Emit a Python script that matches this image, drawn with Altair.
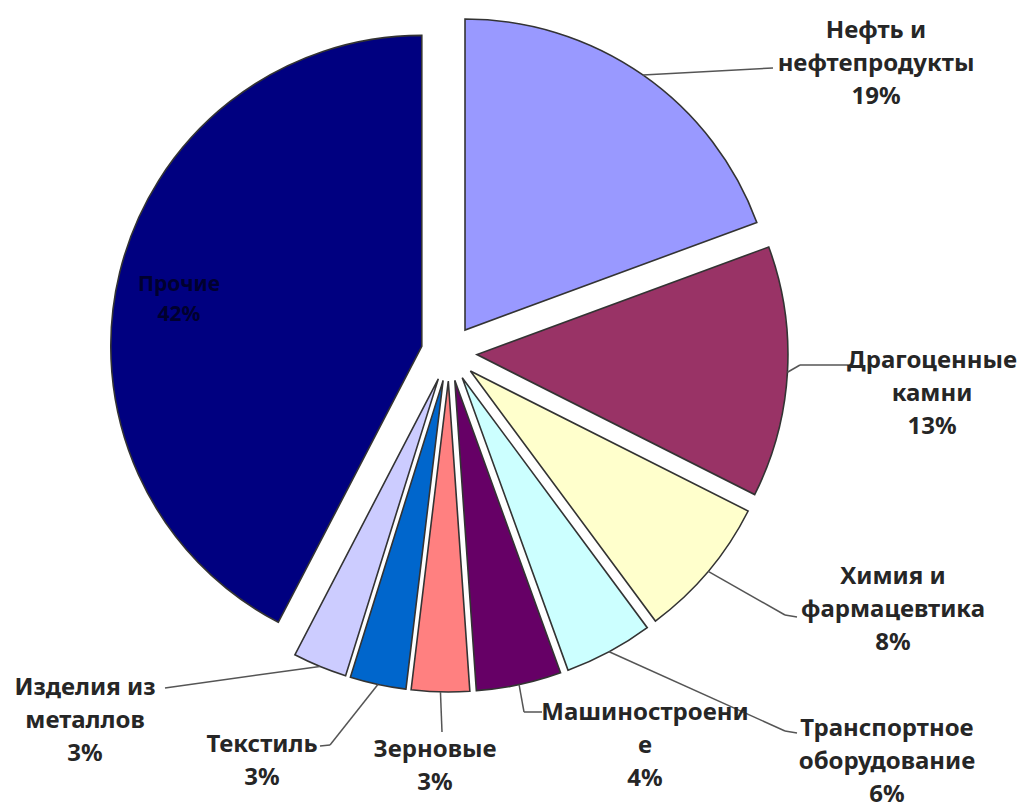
import altair as alt
import pandas as pd

# ---- data ----
categories = [
    "Нефть и нефтепродукты",
    "Драгоценные камни",
    "Химия и фармацевтика",
    "Транспортное оборудование",
    "Машиностроение",
    "Зерновые",
    "Текстиль",
    "Изделия из металлов",
    "Прочие",
]
shares = [19.3, 13.0, 7.4, 4.6, 4.4, 3.0, 2.9, 2.8, 42.2]
label_names = [
    "Нефть и\nнефтепродукты",
    "Драгоценные\nкамни",
    "Химия  и\nфармацевтика",
    "Транспортное\nоборудование",
    "Машиностроени\nе",
    "Зерновые",
    "Текстиль",
    "Изделия из\nметаллов",
    "Прочие",
]
label_pct = ["19%", "13%", "8%", "6%", "4%", "3%", "3%", "3%", "42%"]

# ---- styles ----
colors = ["#9999FF", "#993366", "#FFFFCC", "#CCFFFF", "#660066",
          "#FF8080", "#0066CC", "#CCCCFF", "#000080"]

# ---- layout (page pixel coordinates) ----
OFF = 8
CX, CY = 449 - OFF, 353 - OFF
R = 311
EXPLODE = 28

# x centre and y of the first text line of each label
label_x = [876, 932, 893, 887, 645, 435, 262, 85, 179]
label_y = [31, 361, 577, 729, 713, 750, 745, 688, 285]
elbow_x = [773, 800, 785, 785, 524, 442, 330, 165, 0]
elbow_y = [68, 365, 615, 731, 712, 732, 745, 688, 0]
end_x = [773, 850, 797, 797, 542, 442, 320, 165, 0]
end_y = [68, 365, 617, 733, 712, 732, 746, 688, 0]
has_leader = [1, 1, 1, 1, 1, 1, 1, 1, 0]

df = pd.DataFrame({
    "order": list(range(len(categories))),
    "category": categories,
    "share": shares,
    "label": [n + "\n" + p for n, p in zip(label_names, label_pct)],
    "lx": [v - OFF for v in label_x],
    "ly": [v - OFF for v in label_y],
    "bx": [v - OFF for v in elbow_x],
    "by": [v - OFF for v in elbow_y],
    "ex": [v - OFF for v in end_x],
    "ey": [v - OFF for v in end_y],
    "leader": has_leader,
})

base = (
    alt.Chart(df)
    .transform_window(cum="sum(share)", sort=[alt.SortField("order")], frame=[None, 0])
    .transform_joinaggregate(total="sum(share)")
    .transform_calculate(t0="2*PI*(datum.cum-datum.share)/datum.total")
    .transform_calculate(t1="2*PI*datum.cum/datum.total")
    .transform_calculate(mid="(datum.t0+datum.t1)/2")
    .transform_calculate(cx=f"{CX}+{EXPLODE}*sin(datum.mid)")
    .transform_calculate(cy=f"{CY}-{EXPLODE}*cos(datum.mid)")
    .transform_calculate(sx=f"{CX}+{R + EXPLODE}*sin(datum.mid)")
    .transform_calculate(sy=f"{CY}-{R + EXPLODE}*cos(datum.mid)")
)

arcs = base.mark_arc(radius=R, stroke="#333333", strokeWidth=1.6).encode(
    x=alt.X("cx:Q", scale=None, axis=None),
    y=alt.Y("cy:Q", scale=None, axis=None),
    theta=alt.Theta("t0:Q", scale=None, stack=None),
    theta2="t1:Q",
    color=alt.Color("category:N", scale=alt.Scale(domain=categories, range=colors), legend=None),
)

lead1 = base.transform_filter("datum.leader == 1").mark_rule(color="#555555", strokeWidth=1.5).encode(
    x=alt.X("sx:Q", scale=None, axis=None),
    y=alt.Y("sy:Q", scale=None, axis=None),
    x2="bx:Q",
    y2="by:Q",
)
lead2 = base.transform_filter("datum.leader == 1").mark_rule(color="#555555", strokeWidth=1.5).encode(
    x=alt.X("bx:Q", scale=None, axis=None),
    y=alt.Y("by:Q", scale=None, axis=None),
    x2="ex:Q",
    y2="ey:Q",
)

labels = base.transform_filter("datum.leader == 1").mark_text(
    font="Noto Sans", fontSize=24, fontWeight="bold", lineBreak="\n", lineHeight=33,
    align="center", baseline="middle", color="#262626",
).encode(
    x=alt.X("lx:Q", scale=None, axis=None),
    y=alt.Y("ly:Q", scale=None, axis=None),
    text="label:N",
)

inner = base.transform_filter("datum.leader == 0").mark_text(
    font="Noto Sans", fontSize=21, fontWeight="bold", lineBreak="\n", lineHeight=30,
    align="center", baseline="middle", color="#00002E",
).encode(
    x=alt.X("lx:Q", scale=None, axis=None),
    y=alt.Y("ly:Q", scale=None, axis=None),
    text="label:N",
)

chart = (
    alt.layer(arcs, lead1, lead2, labels, inner)
    .properties(width=1012, height=794, padding=0,
                autosize=alt.AutoSizeParams(type="none"))
    .configure_view(stroke=None)
)

chart.save("out.html", embed_options={"renderer": "svg", "actions": False})
